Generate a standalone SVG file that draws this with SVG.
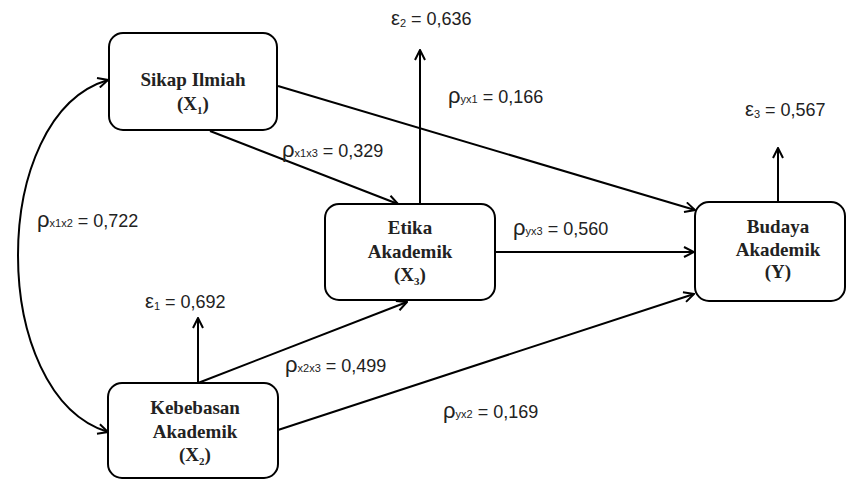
<svg xmlns="http://www.w3.org/2000/svg" width="853" height="481" viewBox="0 0 853 481">
<defs>
<marker id="ah" viewBox="0 0 12 12" refX="11" refY="6" markerWidth="12" markerHeight="12" markerUnits="userSpaceOnUse" orient="auto-start-reverse">
<path d="M1,1 L11,6 L1,11" fill="none" stroke="#000" stroke-width="2"/>
</marker>
</defs>
<style>
.box{fill:#fff;stroke:#000;stroke-width:2}
.nt{font-family:"Liberation Serif",serif;font-weight:bold;font-size:19px;fill:#222;text-anchor:middle}
.sub{font-size:11px}
.lbl{font-family:"Liberation Sans",sans-serif;font-size:18px;fill:#222}
.ls{font-size:11px}
.rho{font-size:22px}
.eps{font-size:20px}
.c{fill:none;stroke:#000;stroke-width:2;marker-end:url(#ah)}
</style>
<rect width="853" height="481" fill="#fff"/>
<g id="connectors">
<path class="c" d="M278,86 L695,210"/>
<path class="c" d="M210,131 L398,204"/>
<path class="c" d="M420,203 L420,50"/>
<path class="c" d="M495,252 L694,252"/>
<path class="c" d="M198,383 L407,302"/>
<path class="c" d="M198,383 L198,318"/>
<path class="c" d="M278,430 L694,294"/>
<path class="c" d="M778,202 L778,148"/>
<path class="c" d="M108,432 C-12,395 -12,115 108,80" style="marker-start:url(#ah)"/>
</g>
<g id="sikap">
<rect class="box" x="109" y="33" width="168" height="97" rx="14"/>
<text class="nt" x="193" y="86">Sikap Ilmiah</text>
<text class="nt" x="193" y="110">(X<tspan class="sub" dy="4">1</tspan><tspan dy="-4">)</tspan></text>
</g>
<g id="etika">
<rect class="box" x="325" y="204" width="170" height="96" rx="14"/>
<text class="nt" x="410" y="234">Etika</text>
<text class="nt" x="410" y="258">Akademik</text>
<text class="nt" x="410" y="281">(X<tspan class="sub" dy="4">3</tspan><tspan dy="-4">)</tspan></text>
</g>
<g id="kebebasan">
<rect class="box" x="108" y="383" width="170" height="95" rx="14"/>
<text class="nt" x="195" y="414">Kebebasan</text>
<text class="nt" x="195" y="438">Akademik</text>
<text class="nt" x="195" y="461">(X<tspan class="sub" dy="4">2</tspan><tspan dy="-4">)</tspan></text>
</g>
<g id="budaya">
<rect class="box" x="695" y="202" width="150" height="99" rx="14"/>
<text class="nt" x="778" y="233">Budaya</text>
<text class="nt" x="778" y="256">Akademik</text>
<text class="nt" x="778" y="278">(Y)</text>
</g>
<g id="labels">
<text class="lbl" x="391" y="25"><tspan class="eps">ε</tspan><tspan class="ls" dy="2">2</tspan><tspan dy="-2"> = 0,636</tspan></text>
<text class="lbl" x="448" y="103"><tspan class="rho">ρ</tspan><tspan class="ls">yx1</tspan> = 0,166</text>
<text class="lbl" x="745" y="116"><tspan class="eps">ε</tspan><tspan class="ls" dy="2">3</tspan><tspan dy="-2"> = 0,567</tspan></text>
<text class="lbl" x="282" y="157"><tspan class="rho">ρ</tspan><tspan class="ls">x1x3</tspan> = 0,329</text>
<text class="lbl" x="37" y="227"><tspan class="rho">ρ</tspan><tspan class="ls">x1x2</tspan> = 0,722</text>
<text class="lbl" x="513" y="235"><tspan class="rho">ρ</tspan><tspan class="ls">yx3</tspan> = 0,560</text>
<text class="lbl" x="145" y="308"><tspan class="eps">ε</tspan><tspan class="ls" dy="2">1</tspan><tspan dy="-2"> = 0,692</tspan></text>
<text class="lbl" x="285" y="372"><tspan class="rho">ρ</tspan><tspan class="ls">x2x3</tspan> = 0,499</text>
<text class="lbl" x="443" y="418"><tspan class="rho">ρ</tspan><tspan class="ls">yx2</tspan> = 0,169</text>
</g>
</svg>
